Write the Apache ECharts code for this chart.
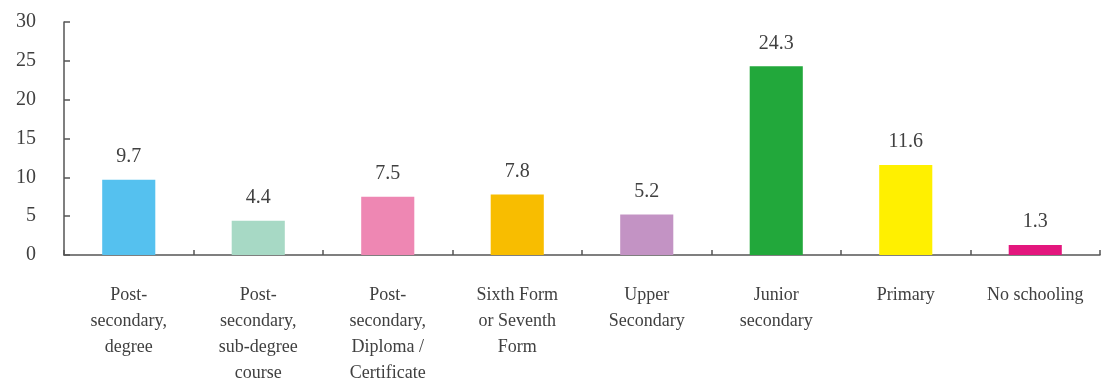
<!DOCTYPE html>
<html>
<head>
<meta charset="utf-8">
<script src="https://cdn.jsdelivr.net/npm/echarts@6/dist/echarts.min.js"></script>
<style>
  html, body { margin: 0; padding: 0; background: #fff; }
  #chart { width: 1105px; height: 386px; }
</style>
</head>
<body>
<div id="chart"></div>
<script>
// Share of population by educational attainment (%)
const categories = [
  'Post-\nsecondary,\ndegree',
  'Post-\nsecondary,\nsub-degree\ncourse',
  'Post-\nsecondary,\nDiploma /\nCertificate',
  'Sixth Form\nor Seventh\nForm',
  'Upper\nSecondary',
  'Junior\nsecondary',
  'Primary',
  'No schooling'
];
const values = [9.7, 4.4, 7.5, 7.8, 5.2, 24.3, 11.6, 1.3];
const barColors = ['#55C1EF', '#A7D9C5', '#EE87B3', '#F8BD00', '#C393C4', '#22A83B', '#FFF000', '#E3167D'];
const yTicks = { min: 0, max: 30, interval: 5 };

const FONT = '"Liberation Serif", "DejaVu Serif", serif';
const TEXT = '#404040';
const AXIS = '#555555';

const chart = echarts.init(document.getElementById('chart'), null, { renderer: 'canvas' });
chart.setOption({
  animation: false,
  backgroundColor: '#ffffff',
  grid: { left: 64, right: 5, top: 22, bottom: 129, containLabel: false },
  xAxis: {
    type: 'category',
    data: categories,
    axisLine: { lineStyle: { color: AXIS, width: 1.5 } },
    axisTick: { show: true, inside: true, length: 5, alignWithLabel: false, lineStyle: { color: AXIS, width: 1.5 } },
    axisLabel: {
      interval: 0,
      margin: 27,
      fontFamily: FONT,
      fontSize: 18,
      lineHeight: 26,
      color: TEXT,
      align: 'center'
    }
  },
  yAxis: {
    type: 'value',
    min: yTicks.min,
    max: yTicks.max,
    interval: yTicks.interval,
    splitLine: { show: false },
    axisLine: { show: true, lineStyle: { color: AXIS, width: 1.5 } },
    axisTick: { show: true, inside: true, length: 6, lineStyle: { color: AXIS, width: 1.5 } },
    axisLabel: {
      margin: 28,
      fontFamily: FONT,
      fontSize: 20,
      color: TEXT
    }
  },
  series: [{
    type: 'bar',
    data: values.map((v, i) => ({ value: v, itemStyle: { color: barColors[i] } })),
    barWidth: '41%',
    label: {
      show: true,
      position: 'top',
      distance: 13,
      fontFamily: FONT,
      fontSize: 20,
      color: TEXT,
      formatter: p => p.value.toFixed(1)
    }
  }]
});
</script>
</body>
</html>
